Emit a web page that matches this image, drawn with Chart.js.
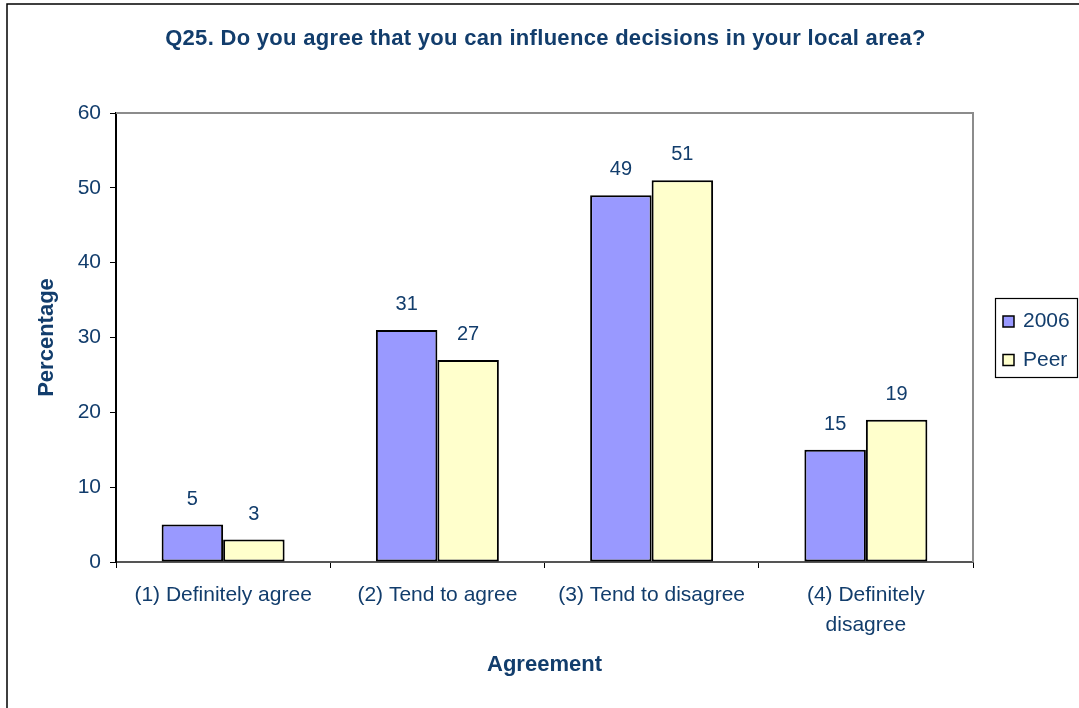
<!DOCTYPE html>
<html><head><meta charset="utf-8">
<script src="https://cdn.jsdelivr.net/npm/chart.js@4"></script>
<style>html,body{margin:0;padding:0;background:#fff}#wrap{position:relative;width:1079px;height:708px}</style>
</head><body><div id="wrap"><canvas id="c" width="1079" height="708"></canvas></div>
<script>
const categories = [["(1) Definitely agree"], ["(2) Tend to agree"], ["(3) Tend to disagree"], ["(4) Definitely", "disagree"]];
const series2006 = [5, 31, 49, 15];
const seriesPeer = [3, 27, 51, 19];
const seriesNames = ["2006", "Peer"];
const yTickValues = [0, 10, 20, 30, 40, 50, 60];
const chartTitle = "Q25. Do you agree that you can influence decisions in your local area?";
const xTitle = "Agreement";
const yTitle = "Percentage";

const TXT = '#123d6c';
const FONT = "'Liberation Sans', Arial, sans-serif";

const decor = {
  id: 'decor',
  beforeDraw(chart) {
    const ctx = chart.ctx;
    ctx.save();
    ctx.fillStyle = '#fff';
    ctx.fillRect(0, 0, chart.width, chart.height);
    ctx.strokeStyle = '#000';
    ctx.lineWidth = 1.5;
    ctx.beginPath();
    ctx.moveTo(7, chart.height); ctx.lineTo(7, 4); ctx.lineTo(chart.width, 4);
    ctx.stroke();
    // title
    const a = chart.chartArea;
    ctx.fillStyle = TXT;
    ctx.font = "bold 22px " + FONT;
    ctx.letterSpacing = '0.3px';
    ctx.textAlign = 'center';
    ctx.textBaseline = 'alphabetic';
    ctx.fillText(chartTitle, (a.left + a.right) / 2 + 1, 45);
    ctx.restore();
  },
  beforeDatasetsDraw(chart) {
    const ctx = chart.ctx, a = chart.chartArea;
    ctx.save();
    ctx.strokeStyle = '#8c8c8c';
    ctx.lineWidth = 2;
    ctx.beginPath();
    ctx.moveTo(a.left, a.top); ctx.lineTo(a.right, a.top); ctx.lineTo(a.right, a.bottom);
    ctx.stroke();
    ctx.restore();
  },
  afterDatasetsDraw(chart) {
    const ctx = chart.ctx;
    ctx.save();
    ctx.fillStyle = TXT;
    ctx.font = "20px " + FONT;
    ctx.textAlign = 'center';
    ctx.textBaseline = 'alphabetic';
    chart.data.datasets.forEach((ds, i) => {
      chart.getDatasetMeta(i).data.forEach((el, j) => {
        ctx.fillText(String(ds.data[j]), el.x, el.y - 20);
      });
    });
    // legend
    ctx.strokeStyle = '#000';
    ctx.lineWidth = 1.2;
    ctx.strokeRect(995.5, 298.5, 82, 79);
    ctx.font = "21px " + FONT;
    chart.data.datasets.forEach((ds, i) => {
      const y = 316 + i * 38.5;
      ctx.fillStyle = ds.backgroundColor;
      ctx.fillRect(1003, y, 11, 11);
      ctx.lineWidth = 1.5;
      ctx.strokeRect(1003, y, 11, 11);
      ctx.fillStyle = TXT;
      ctx.textAlign = 'left';
      ctx.fillText(ds.label, 1023, y + 11);
    });
    ctx.restore();
  }
};

new Chart(document.getElementById('c'), {
  type: 'bar',
  data: {
    labels: categories,
    datasets: [
      { label: seriesNames[0], data: series2006, backgroundColor: '#9999ff', borderColor: '#000', borderWidth: 2, borderSkipped: false },
      { label: seriesNames[1], data: seriesPeer, backgroundColor: '#ffffcc', borderColor: '#000', borderWidth: 2, borderSkipped: false }
    ]
  },
  options: {
    responsive: false, animation: false, devicePixelRatio: 1,
    layout: { padding: { left: 0, top: 113, right: 106, bottom: 0 } },
    datasets: { bar: { categoryPercentage: 0.574, barPercentage: 1.0 } },
    plugins: { legend: { display: false }, title: { display: false }, tooltip: { enabled: false } },
    scales: {
      x: {
        afterFit(s) { s.height = 146; },
        grid: { display: true, offset: true, drawOnChartArea: false, drawTicks: true, tickLength: 6, color: '#000', lineWidth: 1 },
        border: { display: true, color: '#555', width: 2 },
        ticks: { color: TXT, font: { family: FONT, size: 21, lineHeight: 30 / 21 }, padding: 12, maxRotation: 0, autoSkip: false },
        title: { display: true, text: xTitle, color: TXT, font: { family: FONT, size: 22, weight: 'bold' }, padding: { top: 0, bottom: 30 } }
      },
      y: {
        min: 0, max: 60,
        afterFit(s) { s.width = 116; },
        afterBuildTicks(s) { s.ticks = yTickValues.map(v => ({ value: v })); },
        grid: { display: true, drawOnChartArea: false, drawTicks: true, tickLength: 6, color: '#000', lineWidth: 1 },
        border: { display: true, color: '#000', width: 2 },
        ticks: { color: TXT, font: { family: FONT, size: 21 }, padding: 9 },
        title: { display: true, text: yTitle, color: TXT, font: { family: FONT, size: 22, weight: 'bold' }, padding: { top: 34, bottom: 0 } }
      }
    }
  },
  plugins: [decor]
});
</script>
</body></html>
